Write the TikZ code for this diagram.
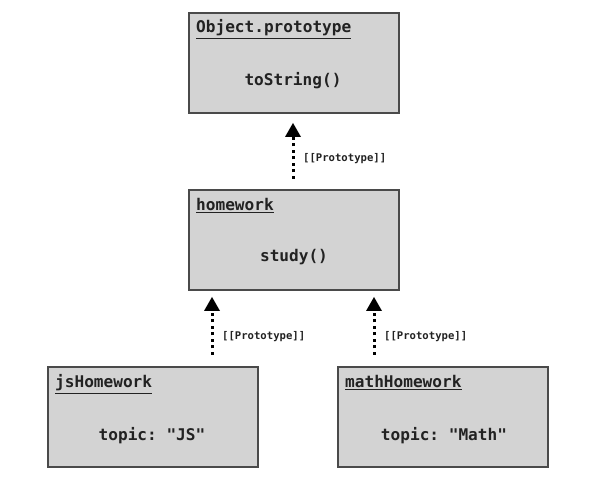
\documentclass[tikz,border=0pt]{standalone}
\usepackage{fontspec}
\setmonofont{DejaVu Sans Mono}
\usetikzlibrary{arrows.meta}
\definecolor{boxfill}{HTML}{D3D3D3}
\definecolor{boxline}{HTML}{4A4A4A}
\definecolor{txt}{HTML}{222222}
\begin{document}
\begin{tikzpicture}[x=1pt,y=-1pt,
  objbox/.style={draw=boxline,fill=boxfill,line width=1.2pt,minimum width=210pt,minimum height=100pt,inner sep=0pt},
  titletext/.style={anchor=base west,text=txt,font=\ttfamily\bfseries\fontsize{16.1}{18}\selectfont,inner sep=0pt},
  bodytext/.style={anchor=base,text=txt,font=\ttfamily\bfseries\fontsize{16.1}{18}\selectfont,inner sep=0pt},
  protoarrow/.style={line width=3pt,dash pattern=on 3pt off 3.5pt,-{Triangle[width=16pt,length=14pt,line width=0pt]}},
  protolabel/.style={anchor=west,text=txt,font=\ttfamily\bfseries\fontsize{10.6}{12}\selectfont,inner sep=0pt}]
\useasboundingbox[fill=white] (0,0) rectangle (598,486);
% boxes
\node[objbox] (obj) at (294,63) {};
\node[objbox] (hw) at (294,240) {};
\node[objbox] (js) at (153,417) {};
\node[objbox] (math) at (443,417) {};
% titles
\node[titletext] (objt) at (196,33) {\underline{Object.prototype}};
\node[titletext] (hwt) at (196,211) {\underline{homework}};
\node[titletext] (jst) at (55,388) {\underline{jsHomework}};
\node[titletext] (matht) at (345,388) {\underline{mathHomework}};
% bodies
\node[bodytext] (objb) at (293,86) {toString()};
\node[bodytext] (hwb) at (294,262) {study()};
\node[bodytext] (jsb) at (152,441) {topic: "JS"};
\node[bodytext] (mathb) at (444,441) {topic: "Math"};
% arrow endpoints
\coordinate (a1s) at (293,179);
\coordinate (a1e) at (293,123);
\coordinate (a2s) at (212,355);
\coordinate (a2e) at (212,297);
\coordinate (a3s) at (374,355);
\coordinate (a3e) at (374,297);
\draw[protoarrow] (a1s) -- (a1e);
\draw[protoarrow] (a2s) -- (a2e);
\draw[protoarrow] (a3s) -- (a3e);
\node[protolabel] (l1) at (303,159) {[[Prototype]]};
\node[protolabel] (l2) at (222,337) {[[Prototype]]};
\node[protolabel] (l3) at (384,337) {[[Prototype]]};
\end{tikzpicture}
\end{document}
